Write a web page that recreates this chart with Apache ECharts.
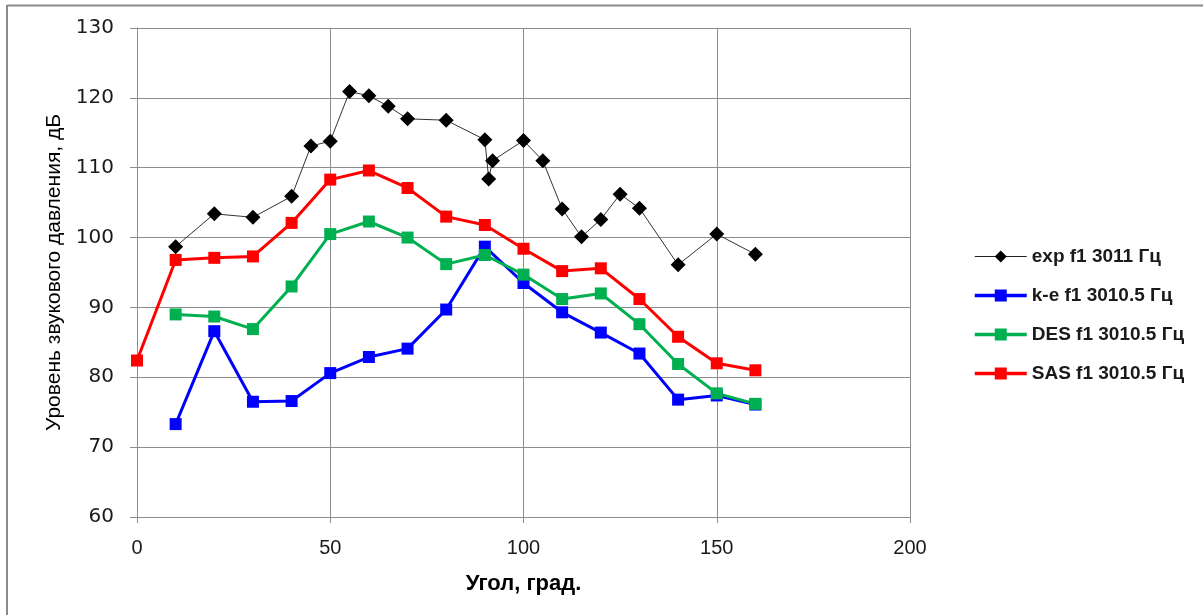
<!DOCTYPE html>
<html>
<head>
<meta charset="utf-8">
<script src="https://cdn.jsdelivr.net/npm/echarts@6/dist/echarts.min.js"></script>
<style>
html,body{margin:0;padding:0;background:#fff;}
#chart{width:1203px;height:615px;}
</style>
</head>
<body>
<div id="chart"></div>
<script>
// Data
const seriesNames = ['exp f1 3011 Гц', 'k-e f1 3010.5 Гц', 'DES f1 3010.5 Гц', 'SAS f1 3010.5 Гц'];
const expAngles = [10, 20, 30, 40, 45, 50, 55, 60, 65, 70, 80, 90, 91, 92, 100, 105, 110, 115, 120, 125, 130, 140, 150, 160];
const expLevels = [98.7, 103.4, 102.9, 105.9, 113.1, 113.8, 120.9, 120.3, 118.8, 117.0, 116.8, 114.0, 108.4, 111.0, 113.9, 111.0, 104.1, 100.1, 102.6, 106.2, 104.2, 96.1, 100.5, 97.6];
const keAngles = [10, 20, 30, 40, 50, 60, 70, 80, 90, 100, 110, 120, 130, 140, 150, 160];
const keLevels = [73.3, 86.6, 76.5, 76.6, 80.6, 82.9, 84.1, 89.7, 98.7, 93.5, 89.3, 86.4, 83.4, 76.8, 77.4, 76.1];
const desAngles = [10, 20, 30, 40, 50, 60, 70, 80, 90, 100, 110, 120, 130, 140, 150, 160];
const desLevels = [89.0, 88.7, 86.9, 93.0, 100.5, 102.3, 100.0, 96.2, 97.5, 94.7, 91.2, 92.0, 87.6, 81.9, 77.7, 76.2];
const sasAngles = [0, 10, 20, 30, 40, 50, 60, 70, 80, 90, 100, 110, 120, 130, 140, 150, 160];
const sasLevels = [82.4, 96.8, 97.1, 97.3, 102.1, 108.3, 109.6, 107.1, 103.0, 101.8, 98.4, 95.2, 95.6, 91.2, 85.8, 82.0, 81.0];
const xTicks = {min: 0, max: 200, interval: 50};
const yTicks = {min: 60, max: 130, interval: 10};

function pairs(xs, ys) { return xs.map((x, i) => [x, ys[i]]); }

const chart = echarts.init(document.getElementById('chart'), null, {renderer: 'canvas'});
const gridColor = '#8c8c8c';
const colors = ['#000000', '#0000ff', '#00b050', '#ff0000'];
const option = {
  backgroundColor: '#ffffff',
  animation: false,
  graphic: [
    {type: 'line', shape: {x1: 7, y1: 5.5, x2: 1203, y2: 5.5}, style: {stroke: '#8a8a8a', lineWidth: 2}},
    {type: 'line', shape: {x1: 7, y1: 5, x2: 7, y2: 615}, style: {stroke: '#8a8a8a', lineWidth: 2}}
  ],
  grid: {left: 137, right: 293, top: 28, bottom: 98},
  legend: {
    orient: 'vertical',
    left: 968,
    top: 242,
    itemWidth: 52,
    itemHeight: 15,
    itemGap: 20,
    textStyle: {fontFamily: 'Liberation Sans', fontSize: 19, fontWeight: 'bold', color: '#1a1a1a'},
    data: [
      {name: seriesNames[0], lineStyle: {width: 1.2, color: '#222'}},
      {name: seriesNames[1], lineStyle: {width: 3.5}},
      {name: seriesNames[2], lineStyle: {width: 3.5}},
      {name: seriesNames[3], lineStyle: {width: 3.5}}
    ]
  },
  xAxis: {
    type: 'value',
    min: xTicks.min, max: xTicks.max, interval: xTicks.interval,
    name: 'Угол, град.',
    nameLocation: 'middle',
    nameGap: 56,
    nameTextStyle: {fontFamily: 'Liberation Sans', fontSize: 22, fontWeight: 'bold', color: '#000'},
    axisLine: {show: true, lineStyle: {color: gridColor, width: 1}},
    axisTick: {show: true, length: 6, lineStyle: {color: gridColor}},
    axisLabel: {fontFamily: 'Liberation Sans', fontSize: 20, color: '#1a1a1a', margin: 21},
    splitLine: {show: true, lineStyle: {color: gridColor, width: 1}}
  },
  yAxis: {
    type: 'value',
    min: yTicks.min, max: yTicks.max, interval: yTicks.interval,
    name: 'Уровень звукового давления, дБ',
    nameLocation: 'middle',
    nameGap: 72,
    nameTextStyle: {fontFamily: 'Liberation Sans', fontSize: 21, color: '#000'},
    axisLine: {show: true, lineStyle: {color: gridColor, width: 1}},
    axisTick: {show: true, length: 7, lineStyle: {color: gridColor}},
    axisLabel: {fontFamily: 'DejaVu Sans', fontSize: 20, color: '#1a1a1a', margin: 23},
    splitLine: {show: true, lineStyle: {color: gridColor, width: 1}}
  },
  series: [
    {
      name: seriesNames[0], type: 'line', data: pairs(expAngles, expLevels),
      symbol: 'diamond', symbolSize: 15,
      lineStyle: {color: '#333', width: 1},
      itemStyle: {color: colors[0]}
    },
    {
      name: seriesNames[1], type: 'line', data: pairs(keAngles, keLevels),
      symbol: 'rect', symbolSize: 12,
      lineStyle: {color: colors[1], width: 3},
      itemStyle: {color: colors[1]}
    },
    {
      name: seriesNames[2], type: 'line', data: pairs(desAngles, desLevels),
      symbol: 'rect', symbolSize: 12,
      lineStyle: {color: colors[2], width: 3},
      itemStyle: {color: colors[2]}
    },
    {
      name: seriesNames[3], type: 'line', data: pairs(sasAngles, sasLevels),
      symbol: 'rect', symbolSize: 12,
      lineStyle: {color: colors[3], width: 3},
      itemStyle: {color: colors[3]}
    }
  ]
};
chart.setOption(option);
</script>
</body>
</html>
